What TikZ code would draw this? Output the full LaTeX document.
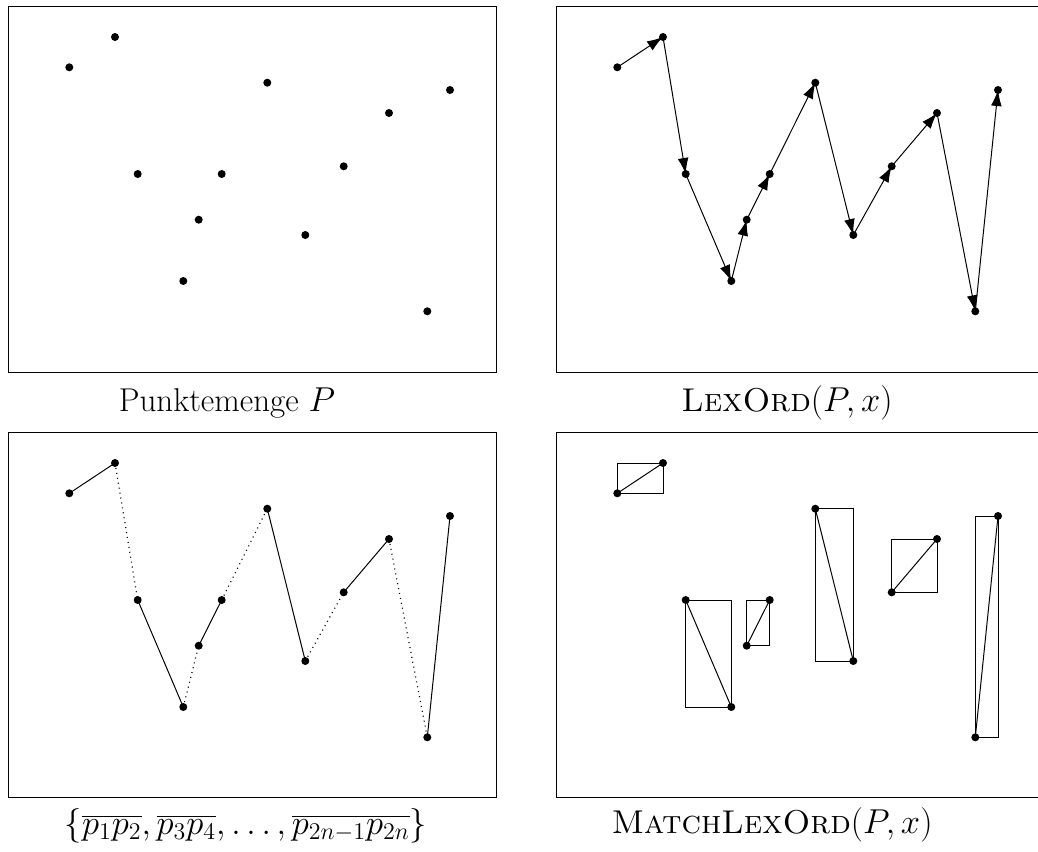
\documentclass[tikz,border=0pt]{standalone}
\usetikzlibrary{arrows.meta}
\begin{document}
\begin{tikzpicture}[x=0.5pt,y=-0.5pt,
  frame/.style={draw,line width=0.5pt},
  seg/.style={line width=0.5pt},
  dotseg/.style={line width=0.6pt,dash pattern=on 0.5pt off 2pt},
  arr/.style={line width=0.5pt,-{Latex[length=8pt,width=5.4pt]}},
  dot/.style={fill=black},
  lab/.style={anchor=base,inner sep=0pt,font=\fontsize{16.5}{20}\selectfont}]
\useasboundingbox (0,0) rectangle (1038,851);
\clip (0,0) rectangle (1038,851);
% point coordinates for the four panels
\foreach \pn/\dx/\dy in {a/0/0,b/548/0,c/0/426,d/548/426}{
  \foreach \i/\px/\py in {1/69.3/67.3,2/115/37,3/137.7/174,4/183.3/281,5/198.7/219.7,6/221.7/174,7/267.3/82.7,8/305.3/235,9/343.7/166.3,10/389/113,11/427.3/311.3,12/450/90}{
    \coordinate (\pn\i) at (\px+\dx,\py+\dy);
  }
}
% frames
\draw[frame] (8,6) rectangle (496,372);
\draw[frame] (556,6) rectangle (1044,372);
\draw[frame] (8,432) rectangle (496,797);
\draw[frame] (556,432) rectangle (1044,797);
% panel b: lexicographic order with arrows
\foreach \i [evaluate=\i as \j using int(\i+1)] in {1,...,11}{
  \draw[arr] (b\i) -- (b\j);
}
% panel c: matched solid, unmatched dotted
\foreach \i [evaluate=\i as \j using int(\i+1)] in {1,3,5,7,9,11}{
  \draw[seg] (c\i) -- (c\j);
}
\foreach \i [evaluate=\i as \j using int(\i+1)] in {2,4,6,8,10}{
  \draw[dotseg] (c\i) -- (c\j);
}
% panel d: matched segments with bounding boxes
\foreach \i [evaluate=\i as \j using int(\i+1)] in {1,3,5,7,9,11}{
  \draw[seg] (d\i) rectangle (d\j);
  \draw[seg] (d\i) -- (d\j);
}
% dots
\foreach \pn in {a,b,c,d}{
  \foreach \i in {1,...,12}{
    \fill[dot] (\pn\i) circle[radius=2pt];
  }
}
% labels
\node[lab] (la) at (227,411) {Punktemenge $P$};
\node[lab] (lb) at (787,411) {\textsc{LexOrd}$(P,x)$};
\node[lab] (lc) at (246,834) {$\{\overline{p_1p_2},\overline{p_3p_4},\ldots,\overline{p_{2n-1}p_{2n}}\}$};
\node[lab] (ld) at (772,833) {\textsc{MatchLexOrd}$(P,x)$};
\end{tikzpicture}
\end{document}
